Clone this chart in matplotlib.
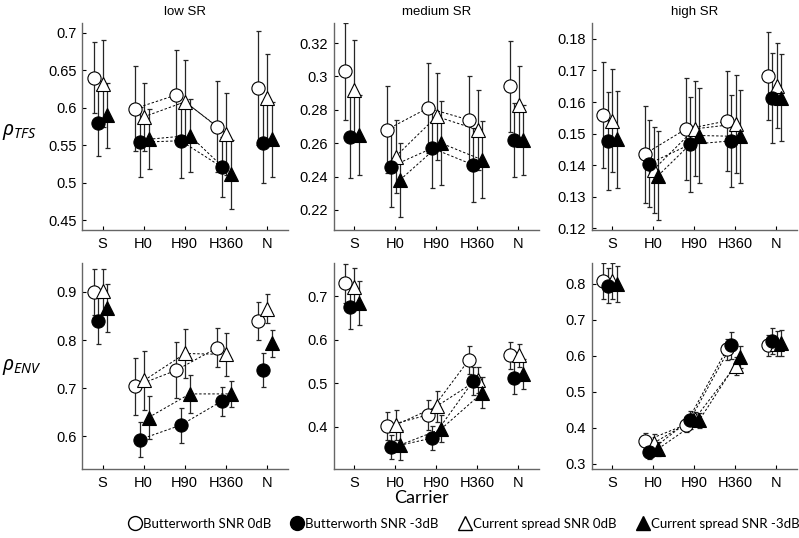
import numpy as np
import matplotlib
matplotlib.use('Agg')
import matplotlib.pyplot as plt
from matplotlib.lines import Line2D
from matplotlib.ticker import FuncFormatter

plt.rcParams['font.family'] = ['Liberation Sans', 'DejaVu Sans']
plt.rcParams['mathtext.fontset'] = 'custom'
plt.rcParams['mathtext.it'] = 'Noto Sans:italic'
plt.rcParams['mathtext.rm'] = 'Noto Sans'

# ---- data ----
carriers = ['S', 'H0', 'H90', 'H360', 'N']
series_labels = ['Butterworth SNR 0dB', 'Butterworth SNR -3dB',
                 'Current spread SNR 0dB', 'Current spread SNR -3dB']

# rows: open circle, filled circle, open triangle, filled triangle
tfs_low_mean = [[0.640, 0.599, 0.617, 0.575, 0.626],
                [0.580, 0.554, 0.556, 0.521, 0.553],
                [0.632, 0.588, 0.608, 0.565, 0.613],
                [0.590, 0.558, 0.563, 0.511, 0.558]]
tfs_low_err = [[0.047, 0.056, 0.060, 0.060, 0.076],
               [0.044, 0.047, 0.050, 0.040, 0.054],
               [0.058, 0.045, 0.055, 0.055, 0.058],
               [0.043, 0.040, 0.048, 0.046, 0.050]]

tfs_med_mean = [[0.303, 0.268, 0.281, 0.274, 0.294],
                [0.264, 0.246, 0.257, 0.247, 0.262],
                [0.292, 0.252, 0.276, 0.268, 0.283],
                [0.265, 0.238, 0.260, 0.250, 0.262]]
tfs_med_err = [[0.029, 0.026, 0.027, 0.026, 0.027],
               [0.025, 0.024, 0.024, 0.022, 0.022],
               [0.030, 0.022, 0.026, 0.024, 0.023],
               [0.024, 0.022, 0.025, 0.023, 0.021]]

tfs_high_mean = [[0.1560, 0.1435, 0.1514, 0.1540, 0.1682],
                 [0.1477, 0.1405, 0.1466, 0.1477, 0.1613],
                 [0.1541, 0.1386, 0.1515, 0.1530, 0.1652],
                 [0.1482, 0.1367, 0.1494, 0.1491, 0.1614]]
tfs_high_err = [[0.0168, 0.0153, 0.0162, 0.0158, 0.0140],
                [0.0155, 0.0138, 0.0150, 0.0145, 0.0143],
                [0.0162, 0.0136, 0.0150, 0.0156, 0.0135],
                [0.0153, 0.0140, 0.0150, 0.0146, 0.0137]]

env_low_mean = [[0.900, 0.704, 0.737, 0.784, 0.839],
                [0.840, 0.593, 0.623, 0.673, 0.737],
                [0.901, 0.716, 0.772, 0.770, 0.865],
                [0.867, 0.639, 0.688, 0.688, 0.793]]
env_low_err = [[0.047, 0.059, 0.058, 0.040, 0.040],
               [0.048, 0.036, 0.036, 0.030, 0.035],
               [0.046, 0.062, 0.050, 0.045, 0.030],
               [0.050, 0.045, 0.040, 0.027, 0.028]]

env_med_mean = [[0.729, 0.402, 0.427, 0.553, 0.564],
                [0.675, 0.353, 0.374, 0.505, 0.513],
                [0.721, 0.404, 0.447, 0.508, 0.564],
                [0.684, 0.358, 0.395, 0.478, 0.521]]
env_med_err = [[0.044, 0.033, 0.035, 0.032, 0.031],
               [0.050, 0.027, 0.027, 0.032, 0.038],
               [0.043, 0.034, 0.035, 0.030, 0.027],
               [0.050, 0.034, 0.031, 0.036, 0.035]]

env_high_mean = [[0.806, 0.362, 0.408, 0.617, 0.628],
                 [0.794, 0.333, 0.422, 0.628, 0.640],
                 [0.808, 0.357, 0.424, 0.572, 0.633],
                 [0.800, 0.341, 0.420, 0.596, 0.635]]
env_high_err = [[0.050, 0.023, 0.020, 0.030, 0.030],
                [0.048, 0.020, 0.025, 0.037, 0.037],
                [0.050, 0.025, 0.020, 0.025, 0.035],
                [0.050, 0.020, 0.020, 0.030, 0.035]]

titles = ['low SR', 'medium SR', 'high SR']

# ---- styles ----
offsets = [-0.21, -0.10, 0.01, 0.12]
markers = ['o', 'o', '^', '^']
faces = ['white', 'black', 'white', 'black']
zorders = [3, 5, 4, 6]

panels = [
    (0, 0, tfs_low_mean, tfs_low_err, (0.437, 0.713), np.arange(0.45, 0.701, 0.05)),
    (0, 1, tfs_med_mean, tfs_med_err, (0.208, 0.332), np.arange(0.22, 0.321, 0.02)),
    (0, 2, tfs_high_mean, tfs_high_err, (0.1195, 0.185), np.arange(0.12, 0.181, 0.01)),
    (1, 0, env_low_mean, env_low_err, (0.532, 0.960), np.arange(0.6, 0.91, 0.1)),
    (1, 1, env_med_mean, env_med_err, (0.303, 0.776), np.arange(0.4, 0.71, 0.1)),
    (1, 2, env_high_mean, env_high_err, (0.285, 0.857), np.arange(0.3, 0.81, 0.1)),
]

W, H = 799, 538
fig = plt.figure(figsize=(W / 100, H / 100), dpi=100)

lefts = [82, 333.5, 591.5]
tops = [23, 263]
bottoms = [230, 469]
aw = 205.5

x = np.arange(1, len(carriers) + 1)
fmt = FuncFormatter(lambda v, p: ('%.2f' % v).rstrip('0').rstrip('.'))

for row, col, mean, err, ylim, yticks in panels:
    ax = fig.add_axes([lefts[col] / W, 1 - bottoms[row] / H, aw / W,
                       (bottoms[row] - tops[row]) / H])
    for k in range(4):
        xs = x + offsets[k]
        m = np.array(mean[k])
        e = np.array(err[k])
        # dashed links between the H conditions
        ax.plot(xs[1:4], m[1:4], color='black', lw=0.7, ls=(0, (2.5, 2)), zorder=2)
        ax.errorbar(xs, m, yerr=e, fmt='none', ecolor='0.15', elinewidth=0.9,
                    capsize=1.8, capthick=0.9, zorder=1)
        ax.plot(xs, m, ls='none', marker=markers[k], ms=9.5,
                mfc=faces[k], mec='black', mew=0.8, zorder=zorders[k])
    ax.set_xlim(0.5, 5.5)
    ax.set_ylim(*ylim)
    ax.set_xticks(x)
    ax.set_xticklabels(carriers)
    ax.set_yticks(yticks)
    ax.yaxis.set_major_formatter(fmt)
    ax.tick_params(direction='in', length=3, width=0.8, labelsize=10.5,
                   colors='black', pad=4)
    ax.tick_params(axis='x', pad=5)
    for s in ['top', 'right']:
        ax.spines[s].set_visible(False)
    for s in ['left', 'bottom']:
        ax.spines[s].set_color('0.4')
        ax.spines[s].set_linewidth(1.0)
    if row == 0:
        ax.set_title(titles[col], fontsize=9.5, pad=6)

fig.text(2 / W, 1 - 132 / H, r'$\rho_{TFS}$', fontsize=14.5, ha='left', va='center')
fig.text(2 / W, 1 - 367 / H, r'$\rho_{ENV}$', fontsize=14.5, ha='left', va='center')

fig.text(422 / W, 1 - 498 / H, 'Carrier', fontsize=13, ha='center', va='center',
         family=['Lato', 'DejaVu Sans'])

handles = [Line2D([], [], ls='none', marker=markers[k], ms=10, mfc=faces[k],
                  mec='black', mew=1.0) for k in range(4)]
fig.legend(handles, series_labels, loc='center', bbox_to_anchor=(463 / W, 1 - 524 / H),
           ncol=4, frameon=False, handletextpad=0.0, columnspacing=1.4,
           handlelength=1.2, prop={'family': ['Lato', 'DejaVu Sans'], 'size': 9.5})

fig.savefig('out.png', dpi=100)
